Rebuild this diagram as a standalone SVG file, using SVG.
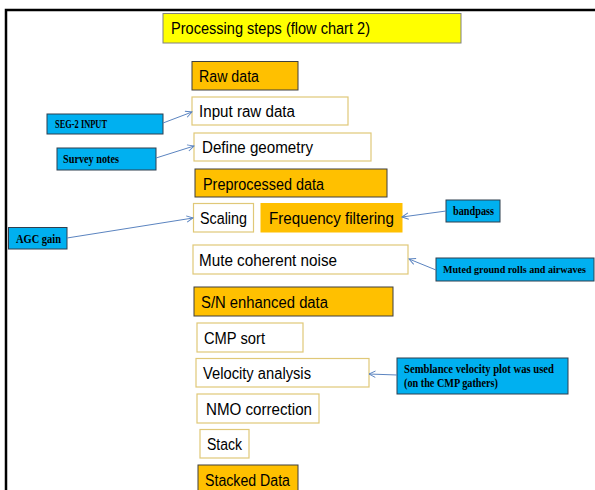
<svg xmlns="http://www.w3.org/2000/svg" width="595" height="490" viewBox="0 0 595 490">
<style>
.t{font-family:"Liberation Sans",Arial,sans-serif;font-size:16px;fill:#000}
.s{font-family:"Liberation Serif","Times New Roman",serif;font-size:11.5px;font-weight:bold;fill:#000}
.hdr{fill:#FFC000;stroke:#3F3F3F;stroke-width:1}
.step{fill:#FFFFFF;stroke:#E0C878;stroke-width:1.2}
.note{fill:#00B0F0;stroke:#2F3F4F;stroke-width:1}
.con{stroke:#5B84C0;stroke-width:1;fill:none;marker-end:url(#arr)}
</style>
<defs>
<marker id="arr" viewBox="0 0 10 10" refX="9" refY="5" markerWidth="8" markerHeight="8" orient="auto" markerUnits="userSpaceOnUse">
<path d="M1,1 L9,5 L1,9" fill="none" stroke="#5B84C0" stroke-width="1.2"/>
</marker>
</defs>
<rect width="595" height="490" fill="#FFFFFF"/>
<rect x="6" y="10" width="600" height="500" fill="none" stroke="#000" stroke-width="2.5"/>

<g id="title">
<rect x="163" y="13.5" width="298" height="29.5" fill="#FFFF00" stroke="#808080" stroke-width="1"/>
<text class="t" x="171" y="34" textLength="199" lengthAdjust="spacingAndGlyphs">Processing steps (flow chart 2)</text>
</g>
<g id="raw-data">
<rect class="hdr" x="192" y="61.5" width="106" height="28.5"/>
<text class="t" x="199" y="82" textLength="60" lengthAdjust="spacingAndGlyphs">Raw data</text>
</g>
<g id="input-raw-data">
<rect class="step" x="192" y="97" width="156" height="28"/>
<text class="t" x="199" y="117" textLength="96" lengthAdjust="spacingAndGlyphs">Input raw data</text>
</g>
<g id="define-geometry">
<rect class="step" x="194" y="133" width="177" height="28"/>
<text class="t" x="202" y="153" textLength="111" lengthAdjust="spacingAndGlyphs">Define geometry</text>
</g>
<g id="preprocessed-data">
<rect class="hdr" x="195" y="169" width="192" height="28"/>
<text class="t" x="203" y="190" textLength="121" lengthAdjust="spacingAndGlyphs">Preprocessed data</text>
</g>
<g id="scaling">
<rect class="step" x="193.5" y="203.5" width="60" height="28.5"/>
<text class="t" x="200" y="224" textLength="47" lengthAdjust="spacingAndGlyphs">Scaling</text>
</g>
<g id="frequency-filtering">
<rect x="261" y="203.5" width="141" height="28.5" fill="#FFC000" stroke="#FFC000" stroke-width="1"/>
<text class="t" x="269" y="224" textLength="125" lengthAdjust="spacingAndGlyphs">Frequency filtering</text>
</g>
<g id="mute-coherent-noise">
<rect class="step" x="193" y="245" width="215" height="29"/>
<text class="t" x="199" y="266" textLength="138" lengthAdjust="spacingAndGlyphs">Mute coherent noise</text>
</g>
<g id="sn-enhanced-data">
<rect class="hdr" x="194" y="287" width="199" height="29"/>
<text class="t" x="201" y="308" textLength="127" lengthAdjust="spacingAndGlyphs">S/N enhanced data</text>
</g>
<g id="cmp-sort">
<rect class="step" x="197" y="323" width="106" height="29"/>
<text class="t" x="204" y="344" textLength="61" lengthAdjust="spacingAndGlyphs">CMP sort</text>
</g>
<g id="velocity-analysis">
<rect class="step" x="196" y="358.5" width="173" height="28.5"/>
<text class="t" x="203" y="379" textLength="108" lengthAdjust="spacingAndGlyphs">Velocity analysis</text>
</g>
<g id="nmo-correction">
<rect class="step" x="197" y="394" width="122" height="29"/>
<text class="t" x="206" y="415" textLength="106" lengthAdjust="spacingAndGlyphs">NMO correction</text>
</g>
<g id="stack">
<rect class="step" x="200" y="429.5" width="49" height="28.5"/>
<text class="t" x="207" y="450" textLength="35" lengthAdjust="spacingAndGlyphs">Stack</text>
</g>
<g id="stacked-data">
<rect class="hdr" x="198" y="465" width="100" height="30"/>
<text class="t" x="205" y="486" textLength="85" lengthAdjust="spacingAndGlyphs">Stacked Data</text>
</g>

<g id="seg2-input">
<rect class="note" x="47" y="114" width="116" height="20"/>
<text class="s" x="55" y="128" textLength="52" lengthAdjust="spacingAndGlyphs">SEG-2 INPUT</text>
</g>
<g id="survey-notes">
<rect class="note" x="57" y="148" width="99" height="22"/>
<text class="s" x="63" y="163" textLength="56" lengthAdjust="spacingAndGlyphs">Survey notes</text>
</g>
<g id="agc-gain">
<rect class="note" x="8.5" y="227.5" width="58.5" height="21.5"/>
<text class="s" x="16" y="243" textLength="45" lengthAdjust="spacingAndGlyphs">AGC gain</text>
</g>
<g id="bandpass">
<rect class="note" x="446" y="200" width="54" height="22"/>
<text class="s" x="453" y="215" textLength="41" lengthAdjust="spacingAndGlyphs">bandpass</text>
</g>
<g id="muted-ground-rolls">
<rect class="note" x="436" y="258" width="158" height="23"/>
<text class="s" x="443" y="273" style="font-size:10px" textLength="143" lengthAdjust="spacingAndGlyphs">Muted ground rolls and airwaves</text>
</g>
<g id="semblance">
<rect class="note" x="397" y="358" width="171" height="36"/>
<text class="s" x="404" y="373" textLength="150" lengthAdjust="spacingAndGlyphs">Semblance velocity plot  was used</text>
<text class="s" x="404" y="387" textLength="94" lengthAdjust="spacingAndGlyphs">(on the CMP gathers)</text>
</g>

<g id="connectors">
<line class="con" x1="163" y1="123" x2="192" y2="112"/>
<line class="con" x1="156" y1="158" x2="194" y2="146"/>
<line class="con" x1="67" y1="238" x2="193" y2="218"/>
<line class="con" x1="446" y1="211" x2="402" y2="217"/>
<line class="con" x1="436" y1="270" x2="409" y2="259"/>
<line class="con" x1="397" y1="375" x2="369" y2="374"/>
</g>
</svg>
